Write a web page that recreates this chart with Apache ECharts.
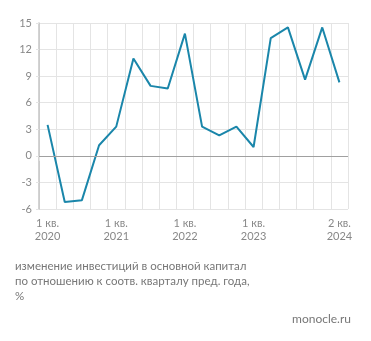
<!DOCTYPE html>
<html><head><meta charset="utf-8">
<script src="https://cdn.jsdelivr.net/npm/echarts@6/dist/echarts.min.js"></script>
<style>html,body{margin:0;padding:0;background:#fff}#c{width:371px;height:341px}</style>
</head><body><div id="c"></div>
<script>
const categories = [
  "1 кв.\n2020","2 кв.\n2020","3 кв.\n2020","4 кв.\n2020",
  "1 кв.\n2021","2 кв.\n2021","3 кв.\n2021","4 кв.\n2021",
  "1 кв.\n2022","2 кв.\n2022","3 кв.\n2022","4 кв.\n2022",
  "1 кв.\n2023","2 кв.\n2023","3 кв.\n2023","4 кв.\n2023",
  "1 кв.\n2024","2 кв.\n2024"
];
const values = [3.5, -5.2, -5.0, 1.2, 3.3, 11.0, 7.9, 7.6, 13.8, 3.3, 2.3, 3.3, 1.0, 13.3, 14.5, 8.6, 14.5, 8.3];
const labelIdx = [0, 4, 8, 12, 17];
const yTicks = [15, 12, 9, 6, 3, 0, -3, -6];
const caption = "изменение инвестиций в основной капитал\nпо отношению к соотв. кварталу пред. года,\n%";
const source = "monocle.ru";

const font = "Lato, 'Open Sans', sans-serif";
const chart = echarts.init(document.getElementById('c'));
chart.setOption({
  animation: false,
  grid: {left: 39, right: 23, top: 23, bottom: 132, containLabel: false},
  xAxis: {
    type: 'category', data: categories, boundaryGap: true,
    axisLine: {show: false},
    axisTick: {show: true, interval: 0, length: 5, lineStyle: {color: '#e4e4e4'}},
    splitLine: {show: true, interval: 0, lineStyle: {color: '#e4e4e4', width: 1}},
    axisLabel: {
      interval: (i) => labelIdx.includes(i), color: '#888', fontSize: 11, fontFamily: font,
      margin: 8, lineHeight: 13, align: 'center'
    }
  },
  yAxis: {
    type: 'value', min: yTicks[yTicks.length-1], max: yTicks[0], interval: 3,
    axisLine: {show: true, onZero: false, lineStyle: {color: '#c4c4c4', width: 1.5}},
    axisTick: {show: true, length: 3, lineStyle: {color: '#e4e4e4'}},
    splitLine: {show: true, lineStyle: {color: '#e4e4e4', width: 1}},
    axisLabel: {color: '#888', fontSize: 11, fontFamily: font, margin: 7}
  },
  series: [{
    type: 'line', data: values, symbol: 'none',
    lineStyle: {color: '#1a86aa', width: 2},
    markLine: {
      silent: true, symbol: 'none', label: {show: false},
      lineStyle: {color: '#a0a0a0', type: 'solid', width: 1},
      data: [{yAxis: 0}]
    }
  }],
  graphic: [
    {type: 'text', left: 15, top: 259, style: {text: caption, fill: '#777', font: '11.5px ' + font, lineHeight: 15}},
    {type: 'text', right: 20, top: 313, style: {text: source, fill: '#777', font: '12px ' + font}}
  ]
});
</script></body></html>
